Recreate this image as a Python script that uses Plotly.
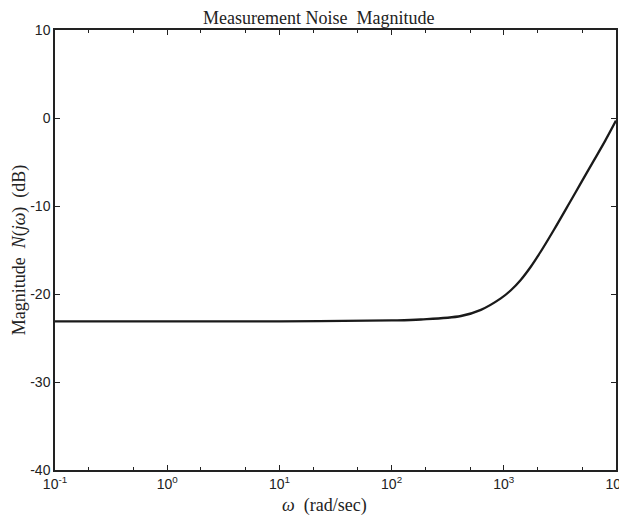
import plotly.graph_objects as go

# values
omega = [0.1, 1, 10, 100, 182, 415, 625, 940, 1150, 1415, 1740, 2130, 2800, 3950, 4760, 6300, 8000, 10000]
mag_db = [-23.1, -23.1, -23.1, -23.0, -22.9, -22.5, -21.8, -20.5, -19.6, -18.4, -16.9, -15.2, -12.7,
          -9.4, -7.6, -4.9, -2.6, -0.3]

xtick_vals = [0.1, 1, 10, 100, 1000, 10000]
xtick_text = ["10<sup>-1</sup>", "10<sup>0</sup>", "10<sup>1</sup>", "10<sup>2</sup>", "10<sup>3</sup>", "10<sup>4</sup>"]
ytick_vals = [-40, -30, -20, -10, 0, 10]

serif = "Liberation Serif, Times New Roman, serif"
sans = "Liberation Sans, Arial, sans-serif"
ink = "#222"

fig = go.Figure()
fig.add_trace(
    go.Scatter(
        x=omega,
        y=mag_db,
        mode="lines",
        line=dict(color="#1a1a1a", width=2.3, shape="spline", smoothing=1.0),
        showlegend=False,
    )
)

# the page body adds ~8px offset, so the figure is sized a bit smaller than the window
fig.update_layout(
    template="none",
    width=619,
    height=512,
    margin=dict(l=47, r=11, t=22, b=50),
    paper_bgcolor="white",
    plot_bgcolor="white",
    title=dict(
        text="Measurement Noise  Magnitude",
        x=0.502, xanchor="center", y=0.982, yanchor="middle",
        font=dict(family=serif, size=18, color=ink),
    ),
    annotations=[
        dict(
            text="<i>ω</i>  (rad/sec)",
            xref="paper", yref="paper", x=0.481, y=0,
            xanchor="center", yanchor="middle", yshift=-35,
            showarrow=False,
            font=dict(family=serif, size=18, color=ink),
        )
    ],
)

fig.update_xaxes(
    type="log",
    range=[-1, 4],
    automargin=False,
    tickvals=xtick_vals,
    ticktext=xtick_text,
    ticklabeloverflow="allow",
    ticks="inside",
    ticklen=5,
    tickcolor=ink,
    showgrid=False,
    zeroline=False,
    showline=True,
    linecolor=ink,
    linewidth=1.5,
    mirror="ticks",
    minor=dict(ticks="inside", ticklen=3, tickcolor=ink, showgrid=False),
    tickfont=dict(family=sans, size=14, color=ink),
)

fig.update_yaxes(
    range=[-40, 10],
    automargin=False,
    tickvals=ytick_vals,
    ticktext=[str(v) for v in ytick_vals],
    ticklabeloverflow="allow",
    ticks="inside",
    ticklen=5,
    tickcolor=ink,
    showgrid=False,
    zeroline=False,
    showline=True,
    linecolor=ink,
    linewidth=1.5,
    mirror="ticks",
    tickfont=dict(family=sans, size=14, color=ink),
    title=dict(text="Magnitude  <i>N</i>(<i>jω</i>)  (dB)", font=dict(family=serif, size=18, color=ink), standoff=0),
)

fig.write_html("out.html")
